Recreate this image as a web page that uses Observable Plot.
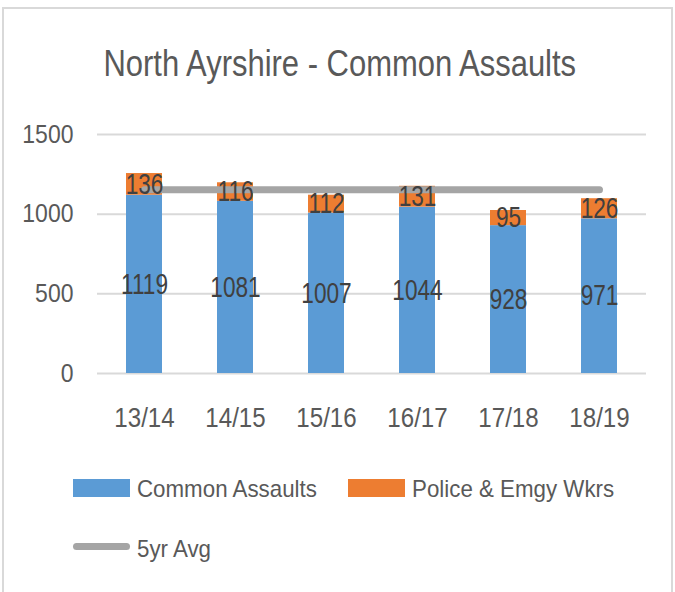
<!DOCTYPE html>
<html>
<head>
<meta charset="utf-8">
<script src="https://cdn.jsdelivr.net/npm/d3@7"></script>
<script src="https://cdn.jsdelivr.net/npm/@observablehq/plot@0.6"></script>
<style>
  html, body { margin: 0; padding: 0; background: #fff; }
  body { width: 675px; height: 592px; position: relative; overflow: hidden;
         font-family: "Liberation Sans", Arial, sans-serif; color: #595959; }
  #frame { position: absolute; left: 2px; top: 7px; width: 671px; height: 600px;
           border: 2px solid #d9d9d9; border-bottom: none; box-sizing: border-box; }
  #title { position: absolute; left: 0; top: 46px; width: 679px; text-align: center;
           font-size: 36px; line-height: 1; color: #595959; white-space: nowrap; }
  #title span { display: inline-block; transform: scaleX(0.86); transform-origin: center; }
  #chart { position: absolute; left: 0; top: 100px; }
  .leg { position: absolute; font-size: 24px; line-height: 1; color: #595959; white-space: nowrap;
         transform: scaleX(0.93); transform-origin: left center; }
  .sw { position: absolute; }
</style>
</head>
<body>
<div id="frame"></div>
<div id="title"><span>North Ayrshire - Common Assaults</span></div>
<div id="chart"></div>
<div id="legend"></div>
<script>
const years = ["13/14", "14/15", "15/16", "16/17", "17/18", "18/19"];
const commonAssaults = [1119, 1081, 1007, 1044, 928, 971];
const policeEmgy = [136, 116, 112, 131, 95, 126];
const fiveYrAvg = [1154, 1154, 1154, 1154, 1154, 1154];
const seriesNames = ["Common Assaults", "Police & Emgy Wkrs", "5yr Avg"];
const seriesColors = ["#5b9bd5", "#ed7d31", "#a5a5a5"];
const yTicks = [0, 500, 1000, 1500];

const rows = [];
years.forEach((y, i) => {
  rows.push({year: y, series: seriesNames[0], value: commonAssaults[i]});
  rows.push({year: y, series: seriesNames[1], value: policeEmgy[i]});
});
const avgRows = years.map((y, i) => ({year: y, value: fiveYrAvg[i]}));

const plot = Plot.plot({
  width: 675,
  height: 335,
  marginLeft: 97,
  marginRight: 29,
  marginTop: 34,
  marginBottom: 62,
  style: {fontFamily: '"Liberation Sans", Arial, sans-serif', color: "#595959", background: "transparent"},
  x: {domain: years, paddingInner: 0.6, paddingOuter: 0.3, label: null},
  y: {domain: [0, 1500], ticks: yTicks, label: null},
  color: {domain: seriesNames.slice(0, 2), range: seriesColors.slice(0, 2)},
  marks: [
    Plot.gridY(yTicks, {stroke: "#d9d9d9", strokeOpacity: 1, strokeWidth: 2}),
    Plot.axisY(yTicks, {tickSize: 0, tickPadding: 24, fontSize: 25, fill: "#595959", label: null, tickFormat: d => String(d)}),
    Plot.axisX({tickSize: 0, tickPadding: 34, fontSize: 28, fill: "#595959", label: null}),
    Plot.barY(rows, Plot.stackY({x: "year", y: "value", z: "series", fill: "series", order: seriesNames.slice(0, 2)})),
    Plot.lineY(avgRows, {x: "year", y: "value", stroke: seriesColors[2], strokeWidth: 7, strokeLinecap: "round"}),
    Plot.text(rows, Plot.stackY({x: "year", y: "value", z: "series", text: d => String(d.value), order: seriesNames.slice(0, 2), fontSize: 29, fill: "#404040"}))
  ]
});
document.getElementById("chart").appendChild(plot);

// condense the chart's text horizontally to mimic the original narrow face
const yTickStrings = yTicks.map(String);
plot.querySelectorAll("text").forEach(el => {
  const s = el.textContent.trim();
  let f;
  if (years.includes(s)) f = 0.86;
  else if (yTickStrings.includes(s) && el.getBBox().x < 97) f = 0.92;
  else f = 0.78;
  const w = el.getComputedTextLength();
  if (w > 0) {
    el.setAttribute("textLength", (w * f).toFixed(2));
    el.setAttribute("lengthAdjust", "spacingAndGlyphs");
  }
});

// Legend
const legend = document.getElementById("legend");
const items = [
  {name: seriesNames[0], color: seriesColors[0], type: "rect", x: 73, y: 488, base: 497},
  {name: seriesNames[1], color: seriesColors[1], type: "rect", x: 348, y: 488, base: 497},
  {name: seriesNames[2], color: seriesColors[2], type: "line", x: 73, y: 546, base: 557}
];
items.forEach(it => {
  const sw = document.createElement("div");
  sw.className = "sw";
  sw.style.left = it.x + "px";
  sw.style.width = "57px";
  sw.style.background = it.color;
  if (it.type === "rect") {
    sw.style.top = (it.y - 9) + "px";
    sw.style.height = "18px";
  } else {
    sw.style.top = (it.y - 3.5) + "px";
    sw.style.height = "7px";
    sw.style.borderRadius = "3.5px";
  }
  legend.appendChild(sw);
  const t = document.createElement("div");
  t.className = "leg";
  t.textContent = it.name;
  t.style.left = (it.x + 64) + "px";
  t.style.top = (it.base - 20.3) + "px";
  legend.appendChild(t);
});
</script>
</body>
</html>
